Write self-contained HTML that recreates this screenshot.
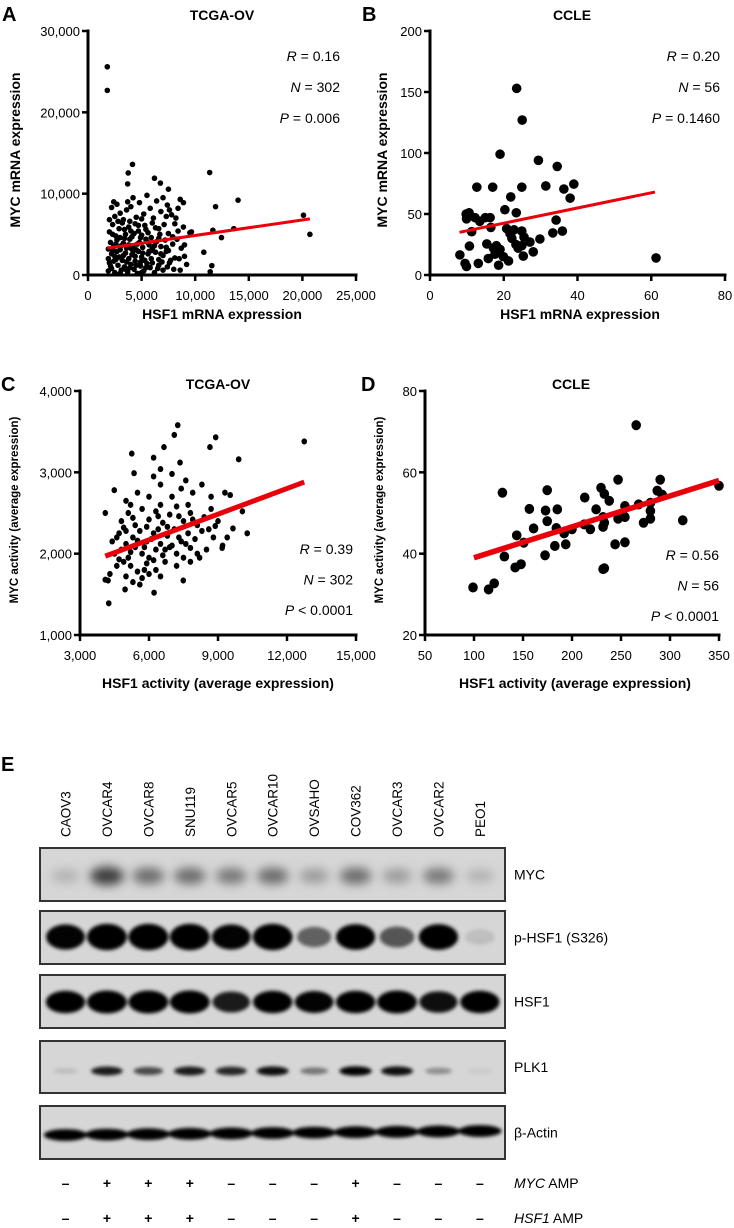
<!DOCTYPE html>
<html><head><meta charset="utf-8">
<style>
html,body{margin:0;padding:0;background:#fff;}
svg{display:block;font-family:"Liberation Sans",Arial,sans-serif;}
</style></head>
<body>
<svg id="fig" width="734" height="1228" viewBox="0 0 734 1228" xmlns="http://www.w3.org/2000/svg">
<defs>
<filter id="blur3" x="-50%" y="-100%" width="200%" height="300%"><feGaussianBlur stdDeviation="3"/></filter>
<filter id="blur2" x="-50%" y="-100%" width="200%" height="300%"><feGaussianBlur stdDeviation="1.8"/></filter>
<filter id="blur5" x="-50%" y="-100%" width="200%" height="300%"><feGaussianBlur stdDeviation="5"/></filter>
</defs>
</svg>
<script>
// ---------- Panel A data (TCGA-OV mRNA, thousands) ----------
const aPoints = [
[1.8,25.6],[1.8,22.7],[3.75,12.55],[4.15,13.6],[3.7,11.2],[6.2,11.9],[6.75,11.3],[7.5,10.55],[11.35,12.6],[14.0,9.2],[11.9,8.4],[20.1,7.35],[20.7,5.0],[13.6,5.7],[12.45,4.6],[10.8,2.8],[11.55,1.15],[11.4,0.4],[11.65,5.5],[9.65,5.3],
[1.9,0.5],[2.2,0.8],[2.5,0.3],[2.8,1.2],[3.1,0.6],[3.4,1.0],[3.7,0.4],[4.0,1.3],[4.3,0.7],[4.6,0.2],[4.9,1.1],[5.2,0.5],[5.5,1.4],[5.8,0.9],[6.2,0.3],[6.6,1.2],[7.0,0.6],[7.4,1.0],[8.0,0.7],[8.6,0.6],[9.2,1.3],[2.0,1.5],[3.0,0.2],[3.9,0.9],[5.0,0.3],[6.0,1.5],[7.6,1.5],
[1.9,2.0],[2.2,2.6],[2.4,1.7],[2.7,2.9],[2.9,2.2],[3.2,1.8],[3.5,2.7],[3.8,2.0],[4.1,2.5],[4.4,1.7],[4.7,2.9],[5.0,2.2],[5.3,1.8],[5.6,2.6],[5.9,2.0],[6.3,2.8],[6.6,1.9],[7.0,2.4],[7.3,2.9],[7.7,1.8],[8.1,2.1],[8.5,2.0],[9.0,2.3],[2.5,2.3],[3.6,1.6],[4.2,2.9],[4.9,1.6],[5.7,2.9],[6.8,2.6],
[1.9,3.2],[2.1,4.0],[2.4,3.5],[2.7,4.3],[3.0,3.1],[3.3,3.9],[3.6,3.3],[3.9,4.4],[4.2,3.6],[4.5,3.1],[4.8,4.0],[5.1,3.4],[5.4,4.4],[5.7,3.7],[6.0,3.2],[6.4,4.1],[6.8,3.5],[7.2,4.3],[7.5,3.0],[7.9,3.8],[8.3,4.4],[8.7,3.3],[9.0,3.7],[2.3,3.0],[3.4,4.5],[4.6,3.8],[6.2,3.6],
[2.0,5.3],[2.3,6.2],[2.6,4.8],[2.9,5.7],[3.2,6.4],[3.5,5.0],[3.8,5.9],[4.1,4.7],[4.4,6.3],[4.7,5.4],[5.0,4.9],[5.3,6.1],[5.6,5.2],[5.9,4.6],[6.3,5.8],[6.7,5.0],[7.1,6.2],[7.5,5.1],[7.9,4.7],[8.4,5.4],[8.9,5.9],[9.5,5.2],[3.0,4.6],[4.0,5.4],[6.0,6.4],[8.1,6.3],
[2.0,6.8],[2.2,8.3],[2.5,7.2],[2.7,8.7],[3.0,7.6],[3.3,6.8],[3.6,8.0],[4.0,8.4],[4.2,9.5],[4.5,7.1],[4.8,8.9],[5.2,7.5],[5.5,9.8],[5.8,8.2],[6.1,7.0],[6.4,9.1],[6.8,7.8],[7.0,9.5],[7.4,8.6],[7.8,7.4],[8.2,7.0],[8.6,9.3],[8.9,8.9],[3.7,9.0],[5.0,6.9],[7.6,8.0],
[2.1,1.1],[2.6,1.9],[3.3,2.4],[3.5,0.7],[4.5,1.2],[4.0,3.3],[4.4,2.3],[5.4,0.9],[5.1,2.7],[5.9,3.0],[6.5,0.8],[6.9,1.6],[3.1,3.6],[2.6,3.8],[3.8,3.7],[4.9,4.6],[5.6,4.0],[6.6,4.5],[7.3,3.4],[2.3,5.0],[3.4,5.6],[4.3,5.1],[5.4,5.6],[6.6,5.7],[2.8,6.6],[3.9,6.6],[4.7,6.1],[7.3,7.2],[8.4,8.2],[2.4,9.0]
];
const aTrend = [1.8,3.3,20.7,6.9];
const aXTicks = ["0","5,000","10,000","15,000","20,000","25,000"];
const aYTicks = ["0","10,000","20,000","30,000"];
const aStats = ["R = 0.16","N = 302","P = 0.006"];

// ---------- Panel B data (CCLE mRNA) ----------
const bPoints = [
[23.5,153],[25,127],[19,99],[29.4,94],[34.5,89],[12.7,72],[17,72],[24.9,72],[31.4,73],[39,74.5],[36.3,70.5],[38,63],[21.9,64],[20.3,53.5],[23.4,51],[10.6,51],[12.2,47],[9.9,46],[16.3,47],[13.5,44],[11.3,35.5],[16.5,39],[20.8,38],[21.7,34],[22.2,30],[24.9,36],[34.2,45],[33.3,34.5],[35.9,36],[29.8,29.5],[27.1,27],[24.9,24],[25.3,15.5],[28,19],[23.9,22],[10.7,23.7],[15.4,25.5],[17.2,22],[19,21],[15.8,13.5],[18.6,8],[21.3,11.5],[19.9,15],[17.6,17],[13.1,9.5],[8.1,16.5],[9.5,9.5],[9.9,7],[61.3,14],[18,24],[23.3,25],[15,47],[9.8,50],[22.8,37],[25.5,31]
];
const bTrend = [8,35,61,68];
const bXTicks = ["0","20","40","60","80"];
const bYTicks = ["0","50","100","150","200"];
const bStats = ["R = 0.20","N = 56","P = 0.1460"];

// ---------- Panel C data (TCGA-OV activity, x in thousands) ----------
const cPoints = [
[12.75,3380],[9.9,3160],[8.9,3430],[8.65,3310],[7.25,3580],[7.1,3460],[6.65,3310],[5.25,3230],[6.2,3180],[5.35,2990],[7.35,3120],[6.5,3040],[4.49,2780],[4.1,2500],[4.22,1670],[4.25,1390],[6.22,1520],[4.96,1560],[7.49,1670],[10.27,2250],[10.06,2520],[9.53,2720],[9.65,2310],[9.18,2070],[8.88,2340],
[4.3,1750],[4.6,1850],[5.0,1720],[5.3,1650],[5.5,1780],[5.7,1700],[5.9,1880],[6.3,1800],[6.7,1900],[7.2,1850],[7.8,1900],[8.2,1950],[4.9,1900],[5.6,1620],[6.0,1750],[4.1,1680],
[4.5,2000],[4.8,2050],[5.1,1950],[5.4,2080],[5.7,2000],[6.0,1950],[6.3,2050],[6.6,1980],[6.9,2080],[7.2,2000],[7.5,1950],[7.8,2070],[8.1,2000],[8.5,2050],[9.2,2100],[5.2,2020],[6.2,1920],[7.0,2100],[4.7,1930],
[4.4,2150],[4.7,2250],[5.0,2120],[5.3,2200],[5.6,2280],[5.9,2150],[6.2,2250],[6.5,2120],[6.8,2220],[7.1,2300],[7.4,2150],[7.7,2250],[8.0,2180],[8.3,2280],[8.8,2200],[9.4,2200],[5.5,2160],[6.4,2300],[7.3,2200],
[4.8,2400],[5.1,2500],[5.4,2350],[5.7,2550],[6.0,2420],[6.3,2520],[6.6,2380],[6.9,2480],[7.2,2580],[7.5,2400],[7.8,2500],[8.1,2350],[8.4,2450],[8.7,2550],[9.0,2400],[5.2,2600],[6.5,2600],[7.7,2600],[4.9,2320],
[5.0,2650],[5.5,2750],[6.0,2700],[6.5,2850],[7.0,2700],[7.4,2800],[7.9,2750],[8.3,2850],[8.7,2700],[9.3,2750],[6.2,2950],[7.0,2980],[7.6,2900],
[5.2,1850],[5.8,2080],[6.1,2180],[6.7,2050],[7.6,2120],[5.9,2330],[6.8,2330],[7.9,2420],[5.3,2440],[6.4,2460],[7.3,2460],[4.6,2200],[5.8,1800],[6.5,1720],[5.0,2280],[8.6,2300]
];
const cTrend = [4.1,1970,12.75,2880];
const cXTicks = ["3,000","6,000","9,000","12,000","15,000"];
const cYTicks = ["1,000","2,000","3,000","4,000"];
const cStats = ["R = 0.39","N = 302","P < 0.0001"];

// ---------- Panel D data (CCLE activity) ----------
const dPoints = [
[265.5,71.6],[350,56.7],[290,58.2],[247,58.2],[229.6,56.2],[233,54.7],[174.7,55.6],[129,55],[213,53.8],[238,53],[254,51.7],[268,52.1],[280,52.5],[292,54.5],[287,55.5],[280,50.5],[273,47.6],[280,48.6],[313,48.2],[247,48.6],[254,49],[224.6,50.9],[231.7,49],[233,47.6],[218.7,46],[212.5,47.2],[231.7,46.6],[200,46],[185,50.9],[173,50.6],[156.5,51],[174.7,48],[184,46.3],[160.8,46.2],[192,45],[193.6,42.3],[182.5,41.9],[143.6,44.5],[150.8,42.7],[244,42.3],[254,42.8],[172.5,39.6],[131,39.3],[142,36.6],[148,37.4],[233,36.4],[231.7,36.2],[99,31.7],[114.9,31.2],[120.6,32.7]
];
const dTrend = [100,39,350,58];
const dXTicks = ["50","100","150","200","250","300","350"];
const dYTicks = ["20","40","60","80"];
const dStats = ["R = 0.56","N = 56","P < 0.0001"];

// ---------- Panel E data (western blot) ----------
const cellLines = ["CAOV3","OVCAR4","OVCAR8","SNU119","OVCAR5","OVCAR10","OVSAHO","COV362","OVCAR3","OVCAR2","PEO1"];
const blotNames = ["MYC","p-HSF1 (S326)","HSF1","PLK1","\u03B2-Actin"];
const mycBand = [0.15,0.65,0.45,0.45,0.4,0.45,0.25,0.45,0.25,0.4,0.15];
const phsf1Band = [0.9,1,1,1,0.9,1,0.5,0.95,0.55,0.95,0.1];
const hsf1Band = [0.95,1,1,1,0.8,0.95,0.9,0.95,1,0.85,0.95];
const plk1Band = [0.1,0.8,0.6,0.8,0.75,0.85,0.4,0.9,0.85,0.3,0.05];
const actinBand = [0.95,0.95,0.95,0.95,0.95,0.95,0.95,0.95,0.95,0.95,0.95];
const mycAmp = ["–","+","+","+","–","–","–","+","–","–","–"];
const hsf1Amp = ["–","+","+","+","–","–","–","+","–","–","–"];

const NS="http://www.w3.org/2000/svg";
const svg=document.getElementById('fig');
function mk(tag,attrs,parent){const e=document.createElementNS(NS,tag);for(const k in attrs)e.setAttribute(k,attrs[k]);(parent||svg).appendChild(e);return e;}
function txt(s,attrs,parent){const e=mk('text',attrs,parent);e.textContent=s;return e;}

function statText(g,s,x,y,fs){
  const t=mk('text',{x:x,y:y,'text-anchor':'end','font-size':fs},g);
  const parts=s.split(' ');
  const a=document.createElementNS(NS,'tspan');a.setAttribute('font-style','italic');a.textContent=parts[0];t.appendChild(a);
  const b=document.createElementNS(NS,'tspan');b.textContent=' '+parts.slice(1).join(' ');t.appendChild(b);
  return t;
}

function panel(o){
  const g=mk('g',{});
  
  
  const X=v=>o.x0+(v-o.xmin)/(o.xmax-o.xmin)*(o.x1-o.x0);
  const Y=v=>o.y0-(v-o.ymin)/(o.ymax-o.ymin)*(o.y0-o.y1);
  const L=txt(o.letter,{x:o.lx,y:o.ly,'font-size':20,'font-weight':'bold'},g);
  
  
  const T=txt(o.title,{x:o.tx,y:o.ty,'font-size':14,'font-weight':'bold','text-anchor':'middle'},g);
  
  
  const pg=mk('g',{},g);
  
  
  o.points.forEach(p=>{
    const c=mk('ellipse',{cx:X(p[0]),cy:Y(p[1]),rx:o.r,ry:o.r*(o.ry||1),fill:'#000'},pg);
    
    
  });
  const tl=mk('line',{x1:X(o.trend[0]),y1:Y(o.trend[1]),x2:X(o.trend[2]),y2:Y(o.trend[3]),stroke:'#e8000b','stroke-width':o.lw},g);
  
  
  const ax=mk('path',{d:`M${o.x0},${o.y1-1.5} V${o.y0} H${o.x1+1.5}`,fill:'none',stroke:'#000','stroke-width':3},g);
  
  
  const nx=o.xticks.length, ny=o.yticks.length;
  o.xticks.forEach((s,i)=>{
    const xx=o.x0+i*(o.x1-o.x0)/(nx-1);
    mk('line',{x1:xx,y1:o.y0,x2:xx,y2:o.y0+6,stroke:'#000','stroke-width':2.5},g);
    const t=txt(s,{x:xx,y:o.y0+25,'font-size':o.tfs,'text-anchor':'middle'},g);
    
    
  });
  o.yticks.forEach((s,i)=>{
    const yy=o.y0-i*(o.y0-o.y1)/(ny-1);
    mk('line',{x1:o.x0-6,y1:yy,x2:o.x0,y2:yy,stroke:'#000','stroke-width':2.5},g);
    const t=txt(s,{x:o.x0-8,y:yy+5,'font-size':o.tfs,'text-anchor':'end'},g);
    
    
  });
  const xt=txt(o.xtitle,{x:o.xtx,y:o.xty,'font-size':o.xfs,'font-weight':'bold','text-anchor':'middle'},g);
  
  
  const yt=txt(o.ytitle,{x:0,y:0,'font-size':o.yfs,'font-weight':'bold','text-anchor':'middle',transform:`translate(${o.ytx},${o.yty}) rotate(-90)`},g);
  
  
  o.stats.forEach((s,i)=>{
    const st=statText(g,s,o.sx,o.sy+i*o.sdy,o.sfs);
    
    
  });
}

panel({name:'panel-a-scatter',letter:'A',lx:2,ly:21,title:'TCGA-OV',tx:222,ty:20,points:aPoints,trend:aTrend,
 xmin:0,xmax:25,ymin:0,ymax:30,x0:88,x1:356,y0:275,y1:31,r:2.8,lw:3,xticks:aXTicks,yticks:aYTicks,tfs:13,
 xtitle:'HSF1 mRNA expression',xtx:222,xty:319,xfs:14,ytitle:'MYC mRNA expression',ytx:20,yty:150,yfs:14,
 stats:aStats,sx:340,sy:61,sdy:31,sfs:14});
panel({name:'panel-b-scatter',letter:'B',lx:362,ly:21,title:'CCLE',tx:572,ty:20,points:bPoints,trend:bTrend,
 xmin:0,xmax:80,ymin:0,ymax:200,x0:430,x1:725,y0:275,y1:31,r:4.8,lw:3,xticks:bXTicks,yticks:bYTicks,tfs:13,
 xtitle:'HSF1 mRNA expression',xtx:580,xty:319,xfs:14,ytitle:'MYC mRNA expression',ytx:387,yty:150,yfs:14,
 stats:bStats,sx:720,sy:61,sdy:31,sfs:14});
panel({name:'panel-c-scatter',letter:'C',lx:1,ly:391,title:'TCGA-OV',tx:218,ty:389,points:cPoints,trend:cTrend,
 xmin:3,xmax:15,ymin:1000,ymax:4000,x0:80,x1:356,y0:635,y1:391,r:2.8,ry:1.1,lw:5,xticks:cXTicks,yticks:cYTicks,tfs:13,
 xtitle:'HSF1 activity (average expression)',xtx:218,xty:688,xfs:14,ytitle:'MYC activity (average expression)',ytx:18,yty:510,yfs:11.5,
 stats:cStats,sx:353,sy:554,sdy:30.5,sfs:14});
panel({name:'panel-d-scatter',letter:'D',lx:361,ly:391,title:'CCLE',tx:571,ty:389,points:dPoints,trend:dTrend,
 xmin:50,xmax:350,ymin:20,ymax:80,x0:425,x1:719,y0:635,y1:391,r:4.8,ry:1.05,lw:5.5,xticks:dXTicks,yticks:dYTicks,tfs:13,
 xtitle:'HSF1 activity (average expression)',xtx:575,xty:688,xfs:14,ytitle:'MYC activity (average expression)',ytx:383,yty:510,yfs:11.5,
 stats:dStats,sx:719,sy:560,sdy:30.5,sfs:14});

// ---------- Panel E ----------
const eg=mk('g',{});


const EL=txt('E',{x:1,y:771,'font-size':20,'font-weight':'bold'},eg);


const laneX0=65.5, laneDX=41.44;
const lane=i=>laneX0+i*laneDX;
cellLines.forEach((s,i)=>{
  const t=txt(s,{x:0,y:0,'font-size':13.5,transform:`translate(${lane(i)+5},837) rotate(-90)`},eg);
  
  
});
const blots=[
 {vals:mycBand,top:848,bot:901,cy:876,h:10,w:18,blur:'blur5'},
 {vals:phsf1Band,top:911,bot:964,cy:937,h:12,w:19,blur:'blur2'},
 {vals:hsf1Band,top:975,bot:1028,cy:1002,h:10.5,w:19,blur:'blur2'},
 {vals:plk1Band,top:1041,bot:1093,cy:1071,h:4.5,w:16,blur:'blur2'},
 {vals:actinBand,top:1106,bot:1159,cy:1135,h:5.5,w:21,blur:'blur2'}
];
blots.forEach((b,bi)=>{
  const bg=mk('g',{},eg);
  
  
  mk('rect',{x:40,y:b.top,width:465,height:b.bot-b.top,fill:'#d6d6d6'},bg);
  const bandG=mk('g',{filter:`url(#${b.blur})`},bg);
  b.vals.forEach((v,i)=>{
    const cy=bi===4? b.cy-(i*0.4): b.cy;
    const band=mk('ellipse',{cx:lane(i),cy:cy,rx:b.w*(0.75+0.3*v),ry:b.h*(0.6+0.5*v),fill:'#000','fill-opacity':Math.min(1,v*1.1)},bandG);
    
    
  });
  mk('rect',{x:40,y:b.top,width:465,height:b.bot-b.top,fill:'none',stroke:'#333','stroke-width':2},bg);
  const lb=txt(blotNames[bi],{x:514,y:(b.top+b.bot)/2+5,'font-size':14},bg);
  
  
});
mycAmp.forEach((s,i)=>{
  const t=txt(s,{x:lane(i),y:1188,'font-size':14,'text-anchor':'middle','font-weight':'bold'},eg);
  
  
});
hsf1Amp.forEach((s,i)=>{
  const t=txt(s,{x:lane(i),y:1223,'font-size':14,'text-anchor':'middle','font-weight':'bold'},eg);
  
  
});
const r1=mk('text',{x:514,y:1188,'font-size':14},eg);
r1.innerHTML='<tspan font-style="italic">MYC</tspan> AMP';


const r2=mk('text',{x:514,y:1223,'font-size':14},eg);
r2.innerHTML='<tspan font-style="italic">HSF1</tspan> AMP';


</script>
</body></html>
